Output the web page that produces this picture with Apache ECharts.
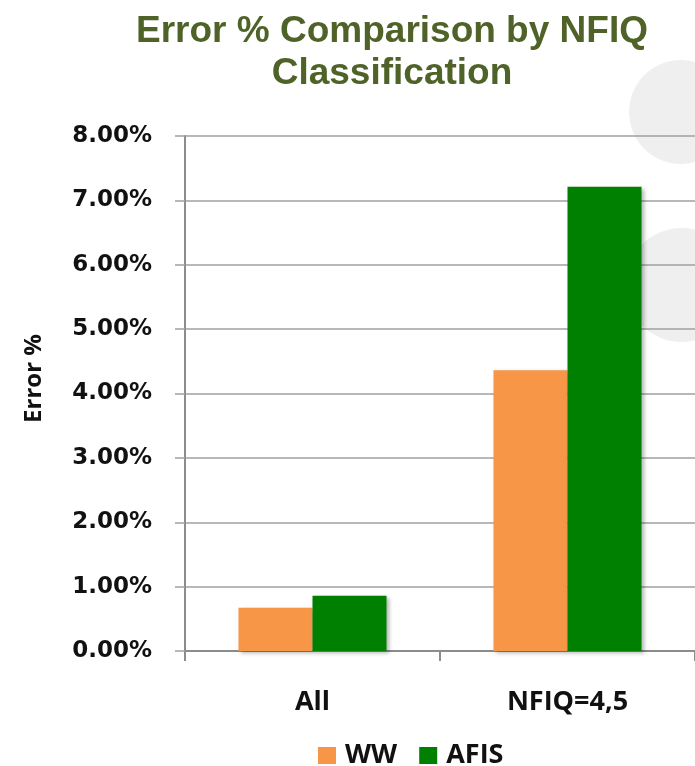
<!DOCTYPE html>
<html>
<head>
<meta charset="utf-8">
<script src="https://cdn.jsdelivr.net/npm/echarts@6/dist/echarts.min.js"></script>
<style>
  html, body { margin: 0; padding: 0; background: #ffffff; }
  #chart { width: 695px; height: 766px; }
</style>
</head>
<body>
<div id="chart"></div>
<script>
// Error rates (percent) per NFIQ class
const categories = ['All', 'NFIQ=4,5'];
const wwValues = [0.67, 4.36];
const afisValues = [0.86, 7.21];
const yTicks = { min: 0, max: 8, interval: 1 };

const chart = echarts.init(document.getElementById('chart'), null, { renderer: 'canvas' });

const barShadow = {
  shadowBlur: 4,
  shadowColor: 'rgba(0,0,0,0.3)',
  shadowOffsetX: 2,
  shadowOffsetY: 2
};

chart.setOption({
  backgroundColor: '#ffffff',
  animation: false,
  title: {
    text: 'Error % Comparison by NFIQ\nClassification',
    left: 387,
    top: 6,
    textAlign: 'center',
    textStyle: {
      fontFamily: '"Liberation Sans", Arial, sans-serif',
      fontWeight: 'bold',
      fontSize: 37,
      lineHeight: 42,
      color: '#4F6228'
    }
  },
  // soft decorative discs on the right edge
  graphic: [
    { type: 'circle', z: -10, shape: { cx: 681, cy: 112, r: 52 }, style: { fill: '#efefef' } },
    { type: 'circle', z: -10, shape: { cx: 682, cy: 285, r: 57 }, style: { fill: '#efefef' } }
  ],
  legend: {
    data: ['WW', 'AFIS'],
    left: 318,
    top: 742,
    padding: 0,
    itemWidth: 18,
    itemHeight: 17,
    itemGap: 22,
    icon: 'rect',
    textStyle: {
      fontFamily: '"Open Sans", sans-serif',
      fontWeight: 'bold',
      fontSize: 27,
      color: '#111111',
      padding: [0, 0, 0, 4]
    }
  },
  grid: { left: 185, right: 0, top: 136, bottom: 115, containLabel: false },
  xAxis: {
    type: 'category',
    data: categories,
    axisLine: { lineStyle: { color: '#8c8c8c', width: 2 } },
    axisTick: { show: true, length: 10, lineStyle: { color: '#8c8c8c', width: 2 } },
    axisLabel: {
      margin: 38,
      fontFamily: '"Open Sans", sans-serif',
      fontWeight: 'bold',
      fontSize: 27,
      color: '#111111'
    }
  },
  yAxis: {
    type: 'value',
    min: yTicks.min,
    max: yTicks.max,
    interval: yTicks.interval,
    name: 'Error %',
    nameLocation: 'middle',
    nameRotate: 90,
    nameGap: 139,
    nameTextStyle: {
      fontFamily: '"Open Sans", sans-serif',
      fontWeight: 'bold',
      fontSize: 24,
      color: '#111111',
      padding: [0, 0, 0, 30]
    },
    axisLine: { show: true, lineStyle: { color: '#8c8c8c', width: 2 } },
    axisTick: { show: true, length: 10, lineStyle: { color: '#a0a0a0', width: 1.5 } },
    splitLine: { show: true, lineStyle: { color: '#a0a0a0', width: 1.5 } },
    axisLabel: {
      margin: 33,
      fontFamily: '"DejaVu Sans", Verdana, sans-serif',
      fontWeight: 'bold',
      fontSize: 23,
      color: '#111111',
      formatter: v => v.toFixed(2) + '%'
    }
  },
  series: [
    {
      name: 'WW',
      type: 'bar',
      data: wwValues,
      barWidth: 74,
      barGap: '0%',
      itemStyle: Object.assign({ color: '#F79646' }, barShadow)
    },
    {
      name: 'AFIS',
      type: 'bar',
      data: afisValues,
      barWidth: 74,
      barGap: '0%',
      itemStyle: Object.assign({ color: '#008000' }, barShadow)
    }
  ]
});
</script>
</body>
</html>
